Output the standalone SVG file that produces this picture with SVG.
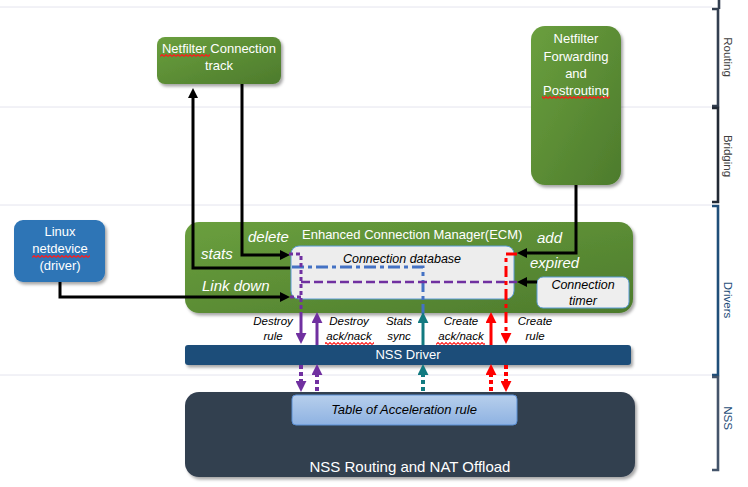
<svg xmlns="http://www.w3.org/2000/svg" width="748" height="487" viewBox="0 0 748 487">
<style>
text{font-family:"Liberation Sans",Arial,sans-serif}
.w{fill:#ffffff}
.k{fill:#000000}
.it{font-style:italic}
.c{text-anchor:middle}
.ln{stroke:#000;stroke-width:3;fill:none}
.sep{stroke:#E4E4EE;stroke-width:1}
.br{fill:none;stroke-width:2.6}
.side{font-size:11.5px;text-anchor:middle}
.small{font-size:11.5px;font-style:italic;text-anchor:middle;fill:#000}
.sq{fill:url(#squig)}
</style>
<defs>
<linearGradient id="green" x1="0" y1="0" x2="1" y2="1">
<stop offset="0" stop-color="#6A9F3E"/>
<stop offset="1" stop-color="#4D7B2C"/>
</linearGradient>
<linearGradient id="tbl" x1="0" y1="0" x2="0" y2="1">
<stop offset="0" stop-color="#B7CFEC"/>
<stop offset="1" stop-color="#8EB2E2"/>
</linearGradient>
<filter id="sh" x="-10%" y="-10%" width="130%" height="140%">
<feDropShadow dx="2" dy="2.5" stdDeviation="1.8" flood-color="#000" flood-opacity="0.35"/>
</filter>
<pattern id="squig" width="4" height="3" patternUnits="userSpaceOnUse">
<path d="M0,2.5 L2,0.5 L4,2.5" stroke="#FF1A1A" stroke-width="1.1" fill="none"/>
</pattern>
<marker id="aK" viewBox="0 0 10 10" refX="1" refY="5" markerWidth="10" markerHeight="10" markerUnits="userSpaceOnUse" orient="auto"><path d="M0,0 L10,5 L0,10 z" fill="#000"/></marker>
<marker id="aP" viewBox="0 0 10 10" refX="1" refY="5" markerWidth="11" markerHeight="11" markerUnits="userSpaceOnUse" orient="auto"><path d="M0,0 L10,5 L0,10 z" fill="#7030A0"/></marker>
<marker id="aT" viewBox="0 0 10 10" refX="1" refY="5" markerWidth="11" markerHeight="11" markerUnits="userSpaceOnUse" orient="auto"><path d="M0,0 L10,5 L0,10 z" fill="#127A80"/></marker>
<marker id="aR" viewBox="0 0 10 10" refX="1" refY="5" markerWidth="11" markerHeight="11" markerUnits="userSpaceOnUse" orient="auto"><path d="M0,0 L10,5 L0,10 z" fill="#FF0000"/></marker>
</defs>
<rect width="748" height="487" fill="#ffffff"/>

<g id="layers">
<line class="sep" x1="0" y1="7" x2="712" y2="7"/>
<line class="sep" x1="0" y1="107" x2="712" y2="107"/>
<line class="sep" x1="0" y1="205" x2="712" y2="205"/>
<line class="sep" x1="0" y1="375" x2="712" y2="375"/>
<path class="br" stroke="#333F50" d="M719,0 V9 M712,9 H718 V106 H712"/>
<path class="br" stroke="#222A35" d="M712,108 H718 V202 H712"/>
<path class="br" stroke="#1F4E79" d="M712,206 H718 V375 H712"/>
<path class="br" stroke="#44546A" d="M712,377 H718 V470 H712"/>
<text class="side" fill="#404040" transform="translate(724,57) rotate(90)">Routing</text>
<text class="side" fill="#404040" transform="translate(724,156) rotate(90)">Bridging</text>
<text class="side" fill="#1F4E79" transform="translate(724,300) rotate(90)">Drivers</text>
<text class="side" fill="#1F4E79" transform="translate(724,418) rotate(90)">NSS</text>
</g>

<g id="netfilter-conntrack">
<rect x="157" y="37" width="124" height="47" rx="8" fill="url(#green)" filter="url(#sh)"/>
<text class="w c" x="219" y="53" font-size="13">Netfilter Connection</text>
<text class="w c" x="219" y="70" font-size="13">track</text>
<rect class="sq" x="160" y="54" width="50" height="3"/>
</g>

<g id="netfilter-forwarding">
<rect x="531" y="26" width="90" height="159" rx="14" fill="url(#green)" filter="url(#sh)"/>
<text class="w c" x="576" y="43" font-size="13">Netfilter</text>
<text class="w c" x="576" y="61" font-size="13">Forwarding</text>
<text class="w c" x="576" y="78" font-size="13">and</text>
<text class="w c" x="576" y="95" font-size="13">Postrouting</text>
<rect class="sq" x="542" y="96" width="68" height="3"/>
</g>

<g id="linux-netdevice">
<rect x="14" y="220" width="91" height="62" rx="9" fill="#2E75B6" filter="url(#sh)"/>
<text class="w c" x="60" y="236" font-size="13">Linux</text>
<text class="w c" x="60" y="253" font-size="13">netdevice</text>
<text class="w c" x="60" y="270" font-size="13">(driver)</text>
<rect class="sq" x="32" y="255" width="58" height="3"/>
</g>

<g id="ecm">
<rect x="185" y="222" width="448" height="91" rx="14" fill="url(#green)" filter="url(#sh)"/>
<text class="w" x="302" y="239" font-size="13">Enhanced Connection Manager(ECM)</text>
</g>

<g id="connection-database">
<rect x="291" y="246" width="223" height="53" rx="8" fill="#EDEDED" stroke="#5B9BD5" stroke-width="1"/>
<text class="k it c" x="402" y="263" font-size="12.5">Connection database</text>
</g>

<g id="connection-timer">
<rect x="537" y="277" width="92" height="31" rx="6" fill="#EEEEEE" stroke="#5B9BD5" stroke-width="1"/>
<text class="k it c" x="583" y="289" font-size="12.5">Connection</text>
<text class="k it c" x="583" y="305" font-size="12.5">timer</text>
</g>

<g id="nss-driver">
<rect x="185" y="345" width="446" height="20" rx="3" fill="#1F4E79" filter="url(#sh)"/>
<text class="w c" x="408" y="359" font-size="13">NSS Driver</text>
</g>

<g id="nss-routing">
<rect x="185" y="392" width="450" height="85" rx="14" fill="#333F50" filter="url(#sh)"/>
<text class="w c" x="410" y="472" font-size="15">NSS Routing and NAT Offload</text>
</g>

<g id="acceleration-table">
<rect x="292" y="395" width="225" height="30" rx="4" fill="url(#tbl)" stroke="#5B8FD4" stroke-width="1"/>
<text class="k it c" x="404" y="414" font-size="13">Table of Acceleration rule</text>
</g>

<g id="connectors">
<path class="ln" d="M290,268 H193 V97" marker-end="url(#aK)"/>
<path class="ln" d="M242,84 V255 H281" marker-end="url(#aK)"/>
<path class="ln" d="M60,282 V297 H281" marker-end="url(#aK)"/>
<path class="ln" d="M576,185 V253 H526" marker-end="url(#aK)"/>
<path class="ln" d="M537,282 H526" marker-end="url(#aK)"/>

<path d="M292,267 H423 V314" fill="none" stroke="#4472C4" stroke-width="3" stroke-dasharray="12,4,4,4"/>
<path d="M289,254 H301 V313 M290,297 H301" fill="none" stroke="#7030A0" stroke-width="3" stroke-dasharray="4,3"/>
<path d="M301,282 H517" fill="none" stroke="#7030A0" stroke-width="2.5" stroke-dasharray="9,4"/>
<path d="M517,254 H506 V334" fill="none" stroke="#FF0000" stroke-width="3" stroke-dasharray="11,4,4,4" marker-end="url(#aR)"/>

<path d="M301,313 V334" stroke="#7030A0" stroke-width="3" marker-end="url(#aP)"/>
<path d="M317,345 V322" stroke="#7030A0" stroke-width="3" marker-end="url(#aP)"/>
<path d="M423,345 V322" stroke="#127A80" stroke-width="3" marker-end="url(#aT)"/>
<path d="M491,345 V322" stroke="#FF0000" stroke-width="3" marker-end="url(#aR)"/>

<path d="M301,365 V382" stroke="#7030A0" stroke-width="4" stroke-dasharray="4,3" marker-end="url(#aP)"/>
<path d="M317,391 V374" stroke="#7030A0" stroke-width="4" stroke-dasharray="4,3" marker-end="url(#aP)"/>
<path d="M423,391 V374" stroke="#127A80" stroke-width="4" stroke-dasharray="4,3" marker-end="url(#aT)"/>
<path d="M491,391 V374" stroke="#FF0000" stroke-width="4" stroke-dasharray="4,3" marker-end="url(#aR)"/>
<path d="M506,365 V382" stroke="#FF0000" stroke-width="4" stroke-dasharray="4,3" marker-end="url(#aR)"/>

<text class="w it" x="248" y="242" font-size="15">delete</text>
<text class="w it" x="201" y="259" font-size="15">stats</text>
<text class="w it" x="202" y="291" font-size="15">Link down</text>
<text class="w it" x="537" y="243" font-size="15">add</text>
<text class="w it" x="530" y="268" font-size="15">expired</text>

<text class="small" x="273" y="325">Destroy</text>
<text class="small" x="273" y="340">rule</text>
<text class="small" x="349" y="325">Destroy</text>
<text class="small" x="349" y="340">ack/nack</text>
<rect class="sq" x="325" y="342" width="49" height="3"/>
<text class="small" x="399" y="325">Stats</text>
<text class="small" x="399" y="340">sync</text>
<text class="small" x="461" y="325">Create</text>
<text class="small" x="461" y="340">ack/nack</text>
<rect class="sq" x="436" y="342" width="49" height="3"/>
<text class="small" x="535" y="325">Create</text>
<text class="small" x="535" y="340">rule</text>
</g>
</svg>
